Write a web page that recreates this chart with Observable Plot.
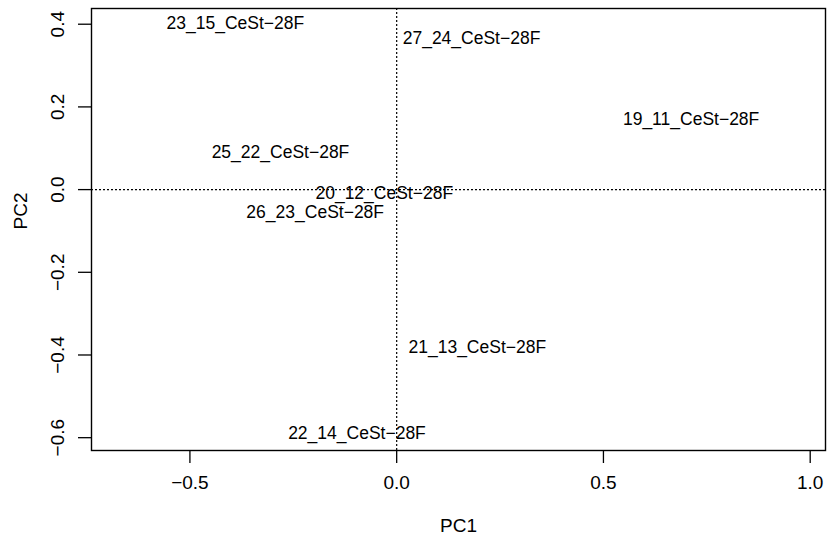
<!DOCTYPE html>
<html>
<head>
<meta charset="utf-8">
<script src="https://cdn.jsdelivr.net/npm/d3@7"></script>
<script src="https://cdn.jsdelivr.net/npm/@observablehq/plot@0.6"></script>
<style>
  html, body { margin: 0; padding: 0; background: #fff; }
  #chart { width: 830px; height: 537px; }
</style>
</head>
<body>
<div id="chart"></div>
<script>
const labels = ["23_15_CeSt\u221228F", "27_24_CeSt\u221228F", "19_11_CeSt\u221228F", "25_22_CeSt\u221228F",
                "20_12_CeSt\u221228F", "26_23_CeSt\u221228F", "21_13_CeSt\u221228F", "22_14_CeSt\u221228F"];
const pc1 = [-0.390, 0.181, 0.712, -0.281, -0.030, -0.197, 0.195, -0.096];
const pc2 = [0.401, 0.365, 0.169, 0.089, -0.010, -0.056, -0.382, -0.590];
const xTicks = [-0.5, 0.0, 0.5, 1.0];
const yTicks = [-0.6, -0.4, -0.2, 0.0, 0.2, 0.4];

const points = labels.map((l, i) => ({label: l, x: pc1[i], y: pc2[i]}));
const fmt = d3.format(".1f");
const font = "'Liberation Sans', Arial, Helvetica, sans-serif";

const chart = Plot.plot({
  width: 830,
  height: 537,
  marginLeft: 91,
  marginRight: 5,
  marginTop: 8,
  marginBottom: 87,
  style: {fontFamily: font, color: "black", background: "white"},
  x: {domain: [-0.738, 1.037], axis: null},
  y: {domain: [-0.631, 0.438], axis: null},
  marks: [
    Plot.ruleX([0], {stroke: "black", strokeWidth: 1.2, strokeDasharray: "2,2"}),
    Plot.ruleY([0], {stroke: "black", strokeWidth: 1.2, strokeDasharray: "2,2"}),
    Plot.text(points, {x: "x", y: "y", text: "label", fontSize: 17.5, fill: "black", textAnchor: "middle", lineAnchor: "middle"}),
    Plot.axisX({ticks: xTicks, tickSize: 13, tickPadding: 12, tickFormat: fmt, fontSize: 19, strokeWidth: 1.3, stroke: "black", fill: "black", label: null}),
    Plot.axisY({ticks: yTicks, tickSize: 13, text: null, strokeWidth: 1.3, stroke: "black", label: null}),
    Plot.text(yTicks, {y: d => d, text: d => fmt(d), frameAnchor: "left", dx: -34, rotate: -90, fontSize: 19, fill: "black", textAnchor: "middle", lineAnchor: "middle"}),
    Plot.text(["PC1"], {frameAnchor: "bottom", dy: 75, text: d => d, fontSize: 19, fill: "black", lineAnchor: "middle"}),
    Plot.text(["PC2"], {frameAnchor: "left", dx: -71, rotate: -90, text: d => d, fontSize: 19, fill: "black", lineAnchor: "middle"}),
    Plot.frame({stroke: "black", strokeWidth: 1.4})
  ]
});
document.getElementById("chart").appendChild(chart);
</script>
</body>
</html>
